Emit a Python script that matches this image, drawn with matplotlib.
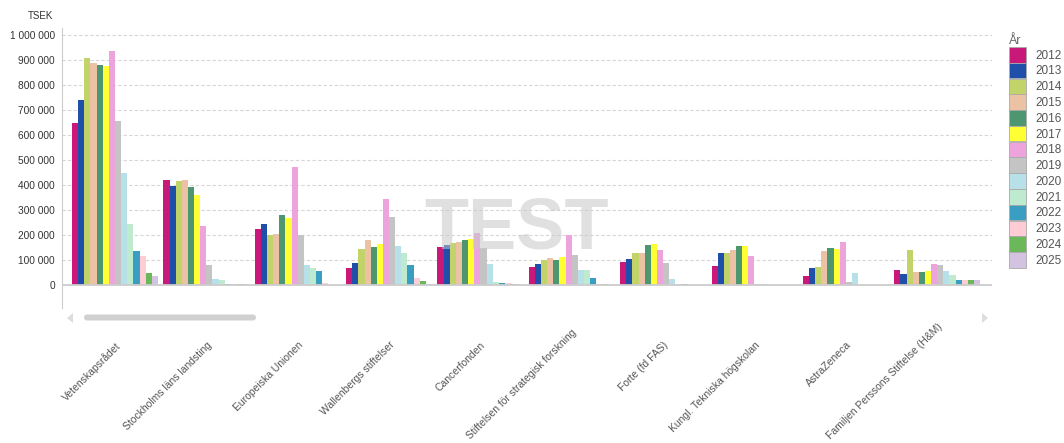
import numpy as np
import matplotlib.pyplot as plt
from matplotlib.patches import FancyBboxPatch, Polygon
from matplotlib.transforms import ScaledTranslation

plt.rcParams['font.family'] = ['Liberation Sans', 'DejaVu Sans']

# finansiärer (x-axel)
categories = ['Vetenskapsrådet', 'Stockholms läns landsting', 'Europeiska Unionen',
              'Wallenbergs stiftelser', 'Cancerfonden', 'Stiftelsen för strategisk forskning',
              'Forte (fd FAS)', 'Kungl. Tekniska högskolan', 'AstraZeneca',
              'Familjen Perssons Stiftelse (H&M)']
years = ['2012', '2013', '2014', '2015', '2016', '2017', '2018',
         '2019', '2020', '2021', '2022', '2023', '2024', '2025']

# TSEK per år, en lista per finansiär (ordning = years)
vetenskapsradet = [650000, 742000, 910000, 888000, 880000, 875000, 938000,
                   658000, 450000, 243000, 135000, 118000, 50000, 38000]
sll = [421000, 396000, 417000, 421000, 393000, 360000, 235000,
       80000, 25000, 20000, 5000, 3000, 5000, 3000]
eu = [226000, 243000, 200000, 205000, 280000, 268000, 471000,
      200000, 80000, 68000, 55000, 8000, 0, 0]
wallenberg = [67000, 87000, 143000, 180000, 153000, 163000, 343000,
              271000, 157000, 129000, 80000, 27000, 17000, 4000]
cancerfonden = [151000, 159000, 168000, 172000, 180000, 184000, 209000,
                147000, 84000, 12000, 9000, 9000, 5000, 0]
ssf = [73000, 84000, 100000, 109000, 100000, 113000, 200000,
       120000, 59000, 59000, 27000, 3000, 5000, 0]
forte = [92000, 105000, 129000, 129000, 160000, 163000, 139000,
         88000, 25000, 4000, 5000, 0, 0, 0]
kth = [77000, 127000, 127000, 140000, 156000, 156000, 117000,
       4000, 4000, 0, 0, 0, 0, 0]
astrazeneca = [36000, 69000, 73000, 135000, 148000, 143000, 172000,
               13000, 47000, 0, 0, 0, 0, 0]
perssons = [60000, 43000, 139000, 51000, 51000, 55000, 84000,
            80000, 56000, 39000, 19000, 19000, 19000, 19000]

values = np.array([vetenskapsradet, sll, eu, wallenberg, cancerfonden,
                   ssf, forte, kth, astrazeneca, perssons])

colors = ['#C8187A', '#1F4FA8', '#C2D36A', '#EBC2A4', '#4E9670', '#FFFF33', '#EDA3DB',
          '#C4C4C4', '#B7E0E8', '#BEEBCF', '#3A9DC2', '#FFCCD5', '#6BB85A', '#D3C3E0']

fig = plt.figure(figsize=(10.64, 4.43), dpi=100)
ax = fig.add_axes([62 / 1064, 1 - 308 / 443, 930 / 1064, 280 / 443])

x = np.arange(len(categories))
n = len(years)
bw = 0.94 / n
for j in range(n):
    ax.bar(x - 0.47 + bw * (j + 0.5), values[:, j], width=bw, color=colors[j],
           label=years[j], zorder=3)

ax.set_xlim(-0.58, 9.6)
ax.set_ylim(-92000, 1028000)
ticks = np.arange(0, 1000001, 100000)
ax.set_yticks(ticks)
ax.set_yticklabels([f'{t:,}'.replace(',', ' ') for t in ticks], fontsize=7.3, color='#333333')
ax.tick_params(axis='y', length=0, pad=5)
for t in ticks[1:]:
    ax.axhline(t, color='#d6d6d6', lw=0.8, ls=(0, (3, 2)), zorder=1)
ax.axhline(0, color='#cccccc', lw=1.3, zorder=4)

ax.set_xticks(x)
ax.set_xticklabels(categories, rotation=45, ha='right', va='top', rotation_mode='anchor',
                   fontsize=7.5, color='#555555')
ax.tick_params(axis='x', length=0, pad=23)

for s in ['top', 'right', 'bottom']:
    ax.spines[s].set_visible(False)
ax.spines['left'].set_color('#cccccc')

# långa etiketter flyttas upp så att de ryms i bilden
fig.canvas.draw()
r = fig.canvas.get_renderer()
for lab in ax.get_xticklabels():
    bb = lab.get_window_extent(r)
    if bb.y0 < 2:
        dy = (2 - bb.y0) / 100
        lab.set_transform(lab.get_transform() + ScaledTranslation(0, dy, fig.dpi_scale_trans))

fig.text(53 / 1064, 1 - 16 / 443, 'TSEK', ha='right', va='center', fontsize=7, color='#333333')

# vattenstämpel
fig.text(0.485, 0.482, 'TEST', ha='center', va='center', fontsize=52, weight='bold',
         color='#c8c8c8', alpha=0.55, zorder=10)

# rullningslist
ov = fig.add_axes([0, 0, 1, 1], zorder=-1)
ov.set_xlim(0, 1064)
ov.set_ylim(443, 0)
ov.axis('off')
ov.add_patch(FancyBboxPatch((84, 314.5), 172, 6, boxstyle='round,pad=0,rounding_size=3',
                            fc='#d0d0d0', ec='none'))
ov.add_patch(Polygon([[73, 313], [73, 323], [67, 318]], fc='#dddddd', ec='none'))
ov.add_patch(Polygon([[982, 313], [982, 323], [988, 318]], fc='#dddddd', ec='none'))

leg = fig.legend(loc='upper left', bbox_to_anchor=(1004 / 1064, 1 - 30 / 443), frameon=False,
                 title='År', fontsize=8.5, handlelength=1.5, handleheight=1.65,
                 labelspacing=0.02, handletextpad=0.8, borderaxespad=0)
leg.get_title().set_color('#666666')
leg.get_title().set_fontsize(9)
leg._legend_box.align = 'left'
for h in leg.legend_handles:
    h.set_edgecolor('#aaaaaa')
    h.set_linewidth(0.6)
for t in leg.get_texts():
    t.set_color('#555555')

fig.savefig('out.png', dpi=100)
